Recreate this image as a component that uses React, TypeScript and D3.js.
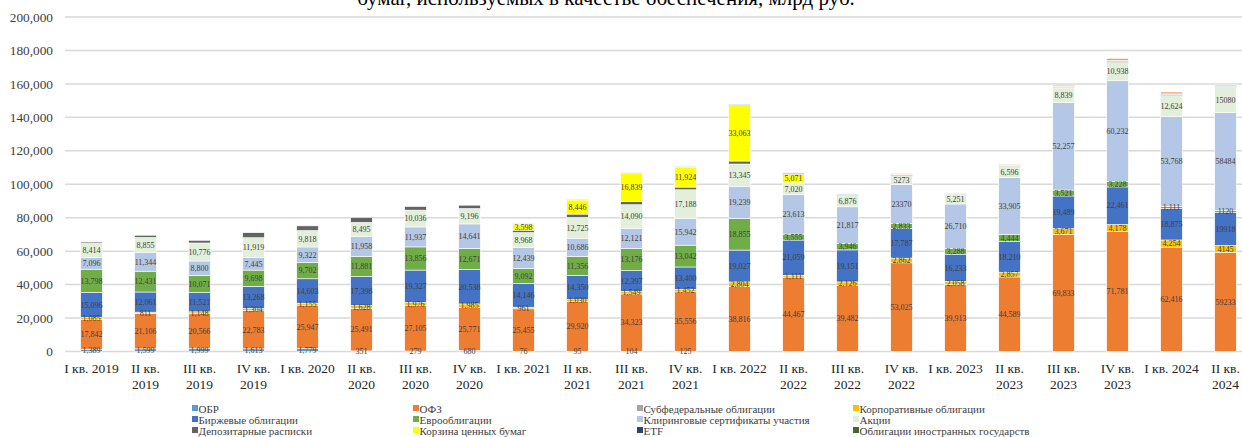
import React from 'react';
import * as d3 from 'd3';

// quarters
const categories = [
  'I кв. 2019', 'II кв. 2019', 'III кв. 2019', 'IV кв. 2019',
  'I кв. 2020', 'II кв. 2020', 'III кв. 2020', 'IV кв. 2020',
  'I кв. 2021', 'II кв. 2021', 'III кв. 2021', 'IV кв. 2021',
  'I кв. 2022', 'II кв. 2022', 'III кв. 2022', 'IV кв. 2022',
  'I кв. 2023', 'II кв. 2023', 'III кв. 2023', 'IV кв. 2023',
  'I кв. 2024', 'II кв. 2024',
];

// values, млрд руб.
const obr = [1389, 1599, 1999, 1613, 1779, 351, 279, 680, 76, 95, 104, 125, 0, 0, 0, 0, 0, 0, 0, 0, 0, 0];
const ofz = [17842, 21106, 20566, 22783, 25947, 25491, 27105, 25771, 25455, 29920, 34323, 35556, 38816, 44467, 39482, 53025, 39913, 44589, 69833, 71781, 62416, 59233];
const subfed = [0, 0, 0, 0, 0, 0, 0, 0, 0, 0, 0, 0, 0, 0, 0, 0, 0, 0, 0, 0, 0, 0];
const corp = [1085, 811, 1148, 1304, 1155, 1628, 1976, 1985, 961, 1030, 1549, 1452, 2804, 1111, 2126, 2862, 2058, 2857, 3671, 4178, 4254, 4145];
const birzh = [15096, 12061, 11521, 13268, 14603, 17398, 19327, 20538, 14146, 14350, 12397, 13400, 19027, 21059, 19151, 17787, 16233, 18210, 19489, 22461, 18875, 19918];
const euro = [13798, 12431, 10071, 9698, 9702, 11881, 13856, 12671, 9092, 11356, 13176, 13042, 18855, 3555, 3946, 2833, 3288, 4444, 3521, 3228, 1111, 1120];
const clearing = [7096, 11344, 8800, 7445, 9322, 11958, 11937, 14641, 12439, 10686, 12121, 15942, 19239, 23613, 21817, 23370, 26710, 33905, 52257, 60232, 53768, 58484];
const shares = [8414, 8855, 10776, 11919, 9818, 8495, 10036, 9196, 8968, 12725, 14090, 17188, 13345, 7020, 6876, 5273, 5251, 6596, 8839, 10938, 12624, 15080];
const depo = [700, 1300, 1600, 3000, 2800, 3000, 2200, 2000, 1400, 2000, 1800, 1600, 1800, 0, 0, 0, 0, 0, 0, 0, 0, 0];
const basket = [0, 0, 0, 0, 0, 0, 0, 0, 3598, 8446, 16839, 11924, 33063, 5071, 0, 0, 0, 0, 0, 0, 0, 0];
const etf = [0, 0, 0, 0, 0, 0, 0, 0, 0, 0, 0, 0, 0, 0, 0, 0, 0, 0, 0, 0, 0, 0];
const forgov = [0, 0, 0, 0, 0, 0, 0, 0, 0, 0, 0, 0, 0, 300, 600, 500, 300, 300, 500, 400, 500, 400];
// unlabelled thin series at the top of the bars (not in legend)
const otherA = [0, 0, 0, 0, 0, 0, 0, 0, 400, 500, 500, 500, 800, 0, 200, 300, 300, 400, 400, 900, 500, 400];
const otherB = [0, 0, 0, 0, 0, 0, 0, 0, 0, 0, 0, 0, 0, 700, 0, 400, 500, 500, 700, 1100, 1100, 600];

const yTicks = [0, 20000, 40000, 60000, 80000, 100000, 120000, 140000, 160000, 180000, 200000];

const series = [
  { key: 'obr', name: 'ОБР', color: '#5B9BD5', values: obr, label: true, legend: true },
  { key: 'ofz', name: 'ОФЗ', color: '#ED7D31', values: ofz, label: true, legend: true },
  { key: 'subfed', name: 'Субфедеральные облигации', color: '#A5A5A5', values: subfed, label: false, legend: true },
  { key: 'corp', name: 'Корпоративные облигации', color: '#FFC000', values: corp, label: true, legend: true },
  { key: 'birzh', name: 'Биржевые облигации', color: '#4472C4', values: birzh, label: true, legend: true },
  { key: 'euro', name: 'Еврооблигации', color: '#70AD47', values: euro, label: true, legend: true },
  { key: 'clearing', name: 'Клиринговые сертификаты участия', color: '#B4C7E7', values: clearing, label: true, legend: true },
  { key: 'shares', name: 'Акции', color: '#E2EFDA', values: shares, label: true, legend: true },
  { key: 'depo', name: 'Депозитарные расписки', color: '#636363', values: depo, label: false, legend: true },
  { key: 'basket', name: 'Корзина ценных бумаг', color: '#FFFF00', values: basket, label: true, legend: true },
  { key: 'etf', name: 'ETF', color: '#264478', values: etf, label: false, legend: true },
  { key: 'forgov', name: 'Облигации иностранных государств', color: '#43682B', values: forgov, label: false, legend: true },
  { key: 'otherA', name: '', color: '#7CAFDD', values: otherA, label: false, legend: false },
  { key: 'otherB', name: '', color: '#F1975A', values: otherB, label: false, legend: false },
];

// cells printed without thousands separator in the original
const plainCells = [
  ['IV кв. 2022', 'clearing'], ['IV кв. 2022', 'shares'],
  ['II кв. 2024', 'ofz'], ['II кв. 2024', 'corp'], ['II кв. 2024', 'birzh'],
  ['II кв. 2024', 'euro'], ['II кв. 2024', 'clearing'], ['II кв. 2024', 'shares'],
];

const width = 1242;
const height = 437;
const font = '"Liberation Serif", "Times New Roman", serif';

const App: React.FC = () => {
  const rows = categories.map((c, i) => {
    const r: any = { cat: c };
    series.forEach(s => (r[s.key] = s.values[i]));
    return r;
  });
  const stacked = d3.stack().keys(series.map(s => s.key))(rows);

  const x = d3.scaleBand().domain(categories).range([64.5, 1252.5]).paddingInner(0.6).paddingOuter(0.3);
  const y = d3.scaleLinear().domain([0, 200000]).range([351.5, 17]);
  const fmt = d3.format(',');
  const fmtPlain = d3.format('d');

  const legendCols = [192, 413, 637, 853];
  const legendRows = [409, 420, 431];
  const legendItems = series.filter(s => s.legend);

  return (
    <svg width={width} height={height} style={{ position: 'absolute', left: 0, top: 0, fontFamily: font }}>
      <rect width={width} height={height} fill="#fff" />
      {/* title, cut by the top edge as in the source */}
      <text x={606} y={5} textAnchor="middle" fontSize={21} fill="#000">
        бумаг, используемых в качестве обеспечения, млрд руб.
      </text>

      {/* grid + y axis */}
      {yTicks.map(t => (
        <g key={t}>
          <line x1={65} x2={width} y1={y(t)} y2={y(t)} stroke="#D9D9D9" strokeWidth={1.5} />
          <text x={53} y={y(t)} dy="0.35em" textAnchor="end" fontSize={13.3} fill="#404040">
            {fmt(t)}
          </text>
        </g>
      ))}

      {/* bars */}
      {stacked.map((layer, li) => (
        <g key={layer.key} fill={series[li].color}>
          {layer.map((d, i) =>
            d[1] - d[0] > 0 ? (
              <rect
                key={i}
                x={x(categories[i])}
                y={y(d[1])}
                width={x.bandwidth()}
                height={y(d[0]) - y(d[1])}
                stroke="#fff"
                strokeWidth={0.6}
              />
            ) : null
          )}
        </g>
      ))}

      {/* data labels */}
      {stacked.map((layer, li) =>
        series[li].label
          ? layer.map((d, i) => {
              const v = d[1] - d[0];
              if (v <= 0) return null;
              const plain = plainCells.some(p => p[0] === categories[i] && p[1] === series[li].key);
              return (
                <text
                  key={`${layer.key}-${i}`}
                  x={(x(categories[i]) || 0) + x.bandwidth() / 2}
                  y={(y(d[0]) + y(d[1])) / 2}
                  dy="0.35em"
                  textAnchor="middle"
                  fontSize={8}
                  fill="#404040"
                >
                  {plain ? fmtPlain(v) : fmt(v)}
                </text>
              );
            })
          : null
      )}

      {/* x labels */}
      {categories.map(c => {
        const lines = c.length <= 10 ? [c] : [c.slice(0, c.lastIndexOf(' ')), c.slice(c.lastIndexOf(' ') + 1)];
        const cx = (x(c) || 0) + x.bandwidth() / 2;
        return (
          <text key={c} x={cx} y={373} textAnchor="middle" fontSize={13.5} fill="#262626">
            {lines.map((l, k) => (
              <tspan key={k} x={cx} dy={k === 0 ? 0 : 15.5}>
                {l}
              </tspan>
            ))}
          </text>
        );
      })}

      {/* legend */}
      {legendItems.map((s, i) => {
        const lx = legendCols[i % 4];
        const ly = legendRows[Math.floor(i / 4)];
        return (
          <g key={s.key}>
            <rect x={lx} y={ly - 4} width={6} height={6} fill={s.color} />
            <text x={lx + 6.5} y={ly} dy="0.35em" fontSize={11} fill="#404040">
              {s.name}
            </text>
          </g>
        );
      })}
    </svg>
  );
};

export default App;
